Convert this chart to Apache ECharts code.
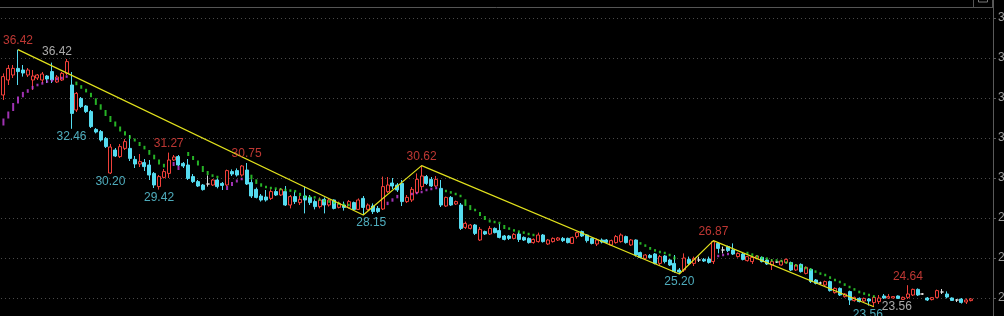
<!DOCTYPE html>
<html><head><meta charset="utf-8">
<script src="https://cdn.jsdelivr.net/npm/echarts@6/dist/echarts.min.js"></script>
<style>html,body{margin:0;padding:0;background:#000;overflow:hidden}#c{width:1004px;height:316px}</style>
</head><body><div id="c"></div>
<script>
// ---- data ----
const opens = [
34.15,34.9,35.15,35.48,35.4,35.15,34.9,35.0,34.9,35.1,
35.32,34.8,34.9,35.23,34.65,33.4,33.98,33.6,33.32,32.43,
32.32,31.98,30.25,31.4,31.07,31.48,31.48,30.93,30.7,30.77,
30.65,30.23,29.57,30.03,30.23,30.9,31.07,30.73,30.65,30.07,
29.82,29.65,29.7,29.65,29.9,29.73,29.65,30.32,30.37,30.15,
30.4,29.77,29.43,29.1,29.05,28.98,29.32,29.15,29.32,28.65,
29.07,28.77,29.1,29.03,28.82,28.57,28.93,28.65,28.9,28.53,
28.65,28.53,28.77,28.43,28.98,28.43,28.6,28.48,28.45,29.32,
29.75,29.65,29.73,28.82,28.9,29.27,29.57,30.07,29.93,29.6,
29.48,28.6,29.03,28.7,28.65,27.53,27.48,27.65,26.9,27.32,
27.2,27.48,27.37,27.1,27.1,26.98,27.2,27.03,26.98,26.77,
26.82,27.15,26.7,26.82,26.9,26.98,26.98,26.73,27.07,27.32,
27.15,26.98,26.7,26.9,26.9,26.65,26.77,26.82,27.07,26.65,
26.9,26.27,25.98,26.13,26.2,25.73,26.1,25.9,25.73,25.4,
25.4,25.93,25.73,25.9,25.93,25.95,25.82,26.73,26.4,26.57,
26.4,26.07,26.2,25.87,25.82,25.98,26.03,25.9,25.65,25.8,
25.65,25.77,25.77,25.4,25.68,25.23,25.43,24.9,24.75,24.65,
24.82,24.27,24.48,24.07,24.32,23.87,23.98,23.85,23.95,23.77,
23.82,24.1,24.0,24.0,24.1,23.93,24.03,24.15,24.43,24.2,
24.0,23.92,24.03,24.3,24.2,24.0,23.9,23.95,23.8,23.87];
const closes = [
35.07,35.48,35.48,35.32,35.25,35.4,35.1,35.15,35.2,34.95,
34.9,35.05,35.23,35.82,33.23,34.23,33.57,33.32,32.57,32.3,
31.9,31.57,31.55,31.1,31.57,31.82,30.98,30.7,30.82,30.57,
30.15,29.65,30.07,30.32,30.9,31.05,30.65,30.6,29.98,29.82,
29.6,29.42,29.7,29.9,29.57,29.63,30.37,30.2,30.15,30.6,
29.7,29.1,29.03,28.9,28.9,29.32,29.15,29.43,28.65,29.07,
28.82,28.93,28.9,28.77,28.57,28.9,28.65,28.9,28.48,28.73,
28.53,28.82,28.43,28.9,28.53,28.65,28.32,28.32,29.57,29.65,
29.6,29.4,28.82,29.03,29.43,29.93,30.1,29.73,29.6,29.93,
28.65,29.03,28.65,28.82,27.48,27.73,27.65,27.23,27.43,27.2,
27.48,27.27,27.03,26.93,26.98,27.18,26.93,26.9,26.77,26.93,
27.15,26.82,26.9,26.98,27.0,26.87,26.77,27.03,27.27,27.1,
26.87,26.73,26.9,26.8,26.78,26.87,27.07,27.15,26.77,26.9,
26.15,26.03,26.15,26.02,25.73,26.07,25.82,25.65,25.32,25.3,
26.0,25.73,25.98,25.9,25.85,25.78,26.82,26.48,26.4,26.37,
26.2,26.23,25.93,26.07,26.03,26.1,25.82,25.7,25.82,25.8,
25.85,25.93,25.4,25.65,25.32,25.53,24.82,24.73,24.75,24.82,
24.37,24.48,24.15,24.2,23.9,24.03,23.82,23.98,23.85,24.03,
24.0,24.0,24.07,24.07,23.98,24.03,24.2,24.43,24.15,24.2,
23.9,24.02,24.37,24.3,24.05,23.88,23.9,23.78,23.9,23.95];
const lows = [
33.9,34.65,35.0,34.65,35.07,35.05,34.4,34.9,34.75,34.75,
34.75,34.75,34.85,35.15,32.46,33.3,33.5,33.25,32.5,32.23,
31.82,31.5,30.2,31.05,31.0,31.4,30.85,30.5,30.55,30.35,
29.9,29.5,29.42,29.98,30.0,30.85,30.6,30.5,29.9,29.75,
29.55,29.37,29.57,29.6,29.48,29.4,29.6,30.1,30.07,30.07,
29.65,29.0,28.98,28.82,28.82,28.9,29.1,29.1,28.6,28.48,
28.7,28.65,28.23,28.65,28.43,28.48,28.23,28.57,28.43,28.48,
28.37,28.48,28.4,28.4,28.15,28.37,28.2,28.25,28.4,29.25,
29.45,29.3,28.6,28.75,28.8,29.2,29.4,29.65,29.55,29.55,
28.55,28.55,28.6,28.65,27.4,27.45,27.43,27.15,26.85,27.15,
27.15,27.23,26.98,26.88,26.9,26.93,26.8,26.85,26.72,26.72,
26.77,26.77,26.65,26.77,26.85,26.8,26.73,26.7,26.97,27.05,
26.77,26.68,26.6,26.73,26.72,26.6,26.72,26.77,26.72,26.6,
26.07,25.98,25.93,25.98,25.68,25.65,25.73,25.6,25.27,25.2,
25.3,25.65,25.6,25.8,25.8,25.72,25.7,26.23,26.23,26.3,
26.15,26.02,25.88,25.82,25.7,25.93,25.78,25.65,25.4,25.75,
25.62,25.72,25.35,25.35,25.27,25.18,24.75,24.68,24.68,24.6,
24.32,24.22,24.1,24.02,23.65,23.82,23.78,23.8,23.62,23.56,
23.7,23.95,23.95,23.97,23.95,23.9,23.95,24.1,24.1,24.15,
23.85,23.88,23.98,24.2,23.98,23.85,23.8,23.72,23.7,23.83];
const highs = [
35.23,35.65,35.65,36.42,35.65,35.5,35.4,35.2,35.3,35.15,
35.77,35.15,35.3,35.95,35.3,34.3,34.05,33.65,33.4,32.5,
32.4,32.05,31.7,31.5,31.7,31.95,32.15,31.1,31.2,30.95,
30.9,30.3,30.15,30.45,31.27,31.15,31.15,30.8,30.95,30.2,
29.9,29.7,30.13,29.95,29.98,29.8,30.42,30.43,30.48,30.65,
30.75,29.93,29.52,29.2,29.4,29.43,29.45,29.5,29.6,29.15,
29.32,29.1,29.57,29.15,28.93,29.03,29.03,28.98,28.93,28.82,
28.82,28.9,28.82,28.98,29.1,28.73,28.73,28.6,30.07,30.05,
30.0,29.75,29.9,29.15,29.55,30.23,30.62,30.15,30.05,30.1,
29.9,29.07,29.1,28.87,28.75,27.82,27.7,27.7,27.55,27.37,
27.6,27.53,27.7,27.15,27.15,27.25,27.3,27.08,27.03,26.98,
27.27,27.2,26.95,27.03,27.05,27.05,27.02,27.07,27.32,27.37,
27.2,27.02,26.98,26.98,26.95,26.92,27.15,27.23,27.12,26.95,
26.93,26.32,26.2,26.2,26.25,26.15,26.15,25.95,26.15,25.5,
26.23,26.07,26.07,26.07,26.0,26.07,26.87,26.78,26.57,26.62,
26.73,26.28,26.25,26.1,26.1,26.15,26.08,25.95,25.95,25.85,
25.9,25.98,25.82,25.7,25.73,25.58,25.48,24.95,24.82,24.87,
24.87,24.53,24.53,24.25,24.37,24.07,24.03,24.02,24.0,24.1,
24.15,24.2,24.2,24.1,24.13,24.07,24.64,24.47,24.48,24.25,
24.05,24.05,24.42,24.45,24.33,24.03,23.95,24.0,23.98,24.0];
// SAR dashes: [bar index, value]
const sarUp = [[0,32.8],[1,33.15],[2,33.55],[3,33.9],[4,34.17],[5,34.35],[6,34.52],[7,34.65],[8,34.73],[9,34.82],[10,34.87],[11,34.95],[12,35.0],[13,35.07],
[35,30.7],[36,30.5],[46,29.5],[47,29.7],[48,29.85],[49,29.95],
[79,28.73],[80,28.9],[81,29.07],[84,29.2],[85,29.25],[86,29.3],[87,29.4],[88,29.45],[89,29.5],
[147,26.1],[148,26.15],[149,26.2]];
const sarDown = [[15,34.73],[16,34.55],[17,34.37],[18,34.15],[19,33.82],[20,33.55],[21,33.25],[22,32.95],[23,32.7],[24,32.45],[25,32.23],[26,32.05],[27,31.9],[28,31.7],[29,31.52],[30,31.28],[31,31.05],[32,30.8],[33,30.62],
[38,31.2],[39,31.0],[40,30.75],[41,30.45],[42,30.25],[43,30.12],[44,30.05],
[51,30.05],[52,29.82],[53,29.65],[54,29.55],[55,29.5],[56,29.47],[57,29.44],[58,29.4],[59,29.37],[60,29.34],[61,29.18],[62,29.07],[63,29.05],[64,29.03],[65,28.92],[66,28.85],[67,28.82],[68,28.77],[69,28.72],[70,28.67],[71,28.65],
[91,29.35],[92,29.28],[93,29.2],[94,29.1],[95,28.77],[96,28.52],[97,28.4],[98,28.2],[99,28.0],[100,27.85],[101,27.8],[102,27.75],[103,27.55],[104,27.47],[105,27.38],[106,27.32],[107,27.27],[108,27.2],[109,27.15],
[131,26.73],[132,26.62],[133,26.48],[134,26.38],[135,26.3],[136,26.25],[137,26.15],[138,26.0],
[153,26.25],[154,26.17],[155,26.08],[156,26.0],[157,25.97],[158,25.88],[159,25.88],[160,25.85],[161,25.77],[162,25.72],[163,25.63],[164,25.57],[165,25.5],[166,25.43],[167,25.32],[168,25.22],[169,25.15],[170,25.02],[171,24.9],[172,24.8],[173,24.67],[174,24.55],[175,24.43],[176,24.3],[177,24.22],[178,24.15],[179,24.08]];
// zigzag turning points
const zigIdx = [3,74,86,139,146,179];
const zigVal = [36.42,28.15,30.62,25.20,26.87,23.56];
// marked extremes
const highMarks = [[3,36.42],[34,31.27],[50,30.75],[86,30.62],[146,26.87],[186,24.64]];
const lowMarks = [[14,32.46],[22,30.20],[32,29.42],[74,28.15],[139,25.20],[179,23.56]];
const yTicks = {min:22, max:40, step:2};

// ---- styling (not data) ----
const RED='#f0403a', CYAN='#55dcf0', DOJI='#dcdcdc';
const padCats = 4;
const categories = opens.map((_,i)=>String(i+1)).concat(Array(padCats).fill(''));
const lowOffsets = {74:[8,8],179:[-6,8]};
const PX_PER_UNIT = 20;

const candleData = opens.map((o,i)=>{
  const item = {value:[o, closes[i], lows[i], highs[i]]};
  if (o === closes[i]) item.itemStyle = {color:DOJI,color0:DOJI,borderColor:DOJI,borderColor0:DOJI};
  return item;
});
// dash length follows the step from the previous SAR dot
function dashSizes(pts){
  return pts.map((p,k)=>{
    const prev = pts[k-1], next = pts[k+1];
    let d = null;
    if (prev && prev[0] === p[0]-1) d = Math.abs(p[1]-prev[1]);
    else if (next && next[0] === p[0]+1) d = Math.abs(next[1]-p[1]);
    const h = d === null ? 4 : d*PX_PER_UNIT;
    return [2, Math.max(2.5, Math.min(8, h))];
  });
}
const upSizes = dashSizes(sarUp), downSizes = dashSizes(sarDown);

const labelFont = {fontSize:12, fontFamily:'Liberation Sans, Arial, sans-serif'};
function labelSeries(pts, color, offsetFn){
  return {type:'scatter', symbol:'circle', symbolSize:1, z:20, silent:true,
    itemStyle:{color:'rgba(0,0,0,0)'},
    data: pts.map(p=>({value:[p[0],p[1]], label:{show:true, position:'inside', offset:offsetFn(p), color, ...labelFont, formatter:()=>p[1].toFixed(2)}}))};
}

const chart = echarts.init(document.getElementById('c'), null, {renderer:'canvas'});
chart.setOption({
  backgroundColor:'#000',
  animation:false,
  grid:{left:1, right:11, top:-22, bottom:-22, containLabel:false, outerBoundsMode:'none'},
  xAxis:{type:'category', data:categories, boundaryGap:true,
    axisLine:{show:false}, axisTick:{show:false}, axisLabel:{show:false}, splitLine:{show:false}},
  yAxis:{type:'value', position:'right', min:yTicks.min, max:yTicks.max, interval:yTicks.step,
    axisLine:{show:true, lineStyle:{color:'#5a5a5a'}},
    axisTick:{show:true, length:3, lineStyle:{color:'#5a5a5a'}},
    axisLabel:{color:'#9a9a9a', fontSize:12, margin:5, formatter:v=>v.toFixed(2)},
    splitLine:{show:true, lineStyle:{color:'#4a4a4a', type:[1,3], width:1}}},
  graphic:[
    {type:'line', shape:{x1:0,y1:7.5,x2:993,y2:7.5}, style:{stroke:'#555',lineWidth:1}},
    {type:'rect', shape:{x:973.5,y:-1,width:19,height:8.5}, style:{fill:'none',stroke:'#555',lineWidth:1}},
    {type:'rect', shape:{x:978.5,y:-1,width:9,height:3}, style:{fill:'none',stroke:'#777',lineWidth:1}}
  ],
  series:[
    {type:'candlestick', data:candleData, barWidth:3.5, z:2,
      itemStyle:{color:'#000', color0:CYAN, borderColor:RED, borderColor0:CYAN, borderWidth:1}},
    {type:'scatter', data:sarUp, symbol:'rect', symbolSize:(v,p)=>upSizes[p.dataIndex], z:3,
      itemStyle:{color:'#c83ee0'}, silent:true},
    {type:'scatter', data:sarDown, symbol:'rect', symbolSize:(v,p)=>downSizes[p.dataIndex], z:3,
      itemStyle:{color:'#30e030'}, silent:true},
    {type:'line', data:zigIdx.map((x,k)=>{
        const d={value:[x,zigVal[k]]};
        if(k===0){d.symbol='path://M10,0 L0,5 L10,10'; d.symbolSize=[6,7]; d.symbolOffset=[3,0];
          d.itemStyle={color:'none', borderColor:'#e0e0e0', borderWidth:1};}
        return d;}),
      showSymbol:true, symbol:'none', z:10, silent:true,
      lineStyle:{color:'#e2e21c', width:1.2}},
    labelSeries(highMarks, '#ec4540', ()=>[0,-9]),
    labelSeries(lowMarks, '#62d6ea', p=>lowOffsets[p[0]]||[0,8]),
    labelSeries([[zigIdx[0],zigVal[0]]], '#d4d4d4', ()=>[39,2]),
    labelSeries([[zigIdx[zigIdx.length-1],zigVal[zigVal.length-1]]], '#d4d4d4', ()=>[23,0])
  ]
});
</script>
</body></html>
